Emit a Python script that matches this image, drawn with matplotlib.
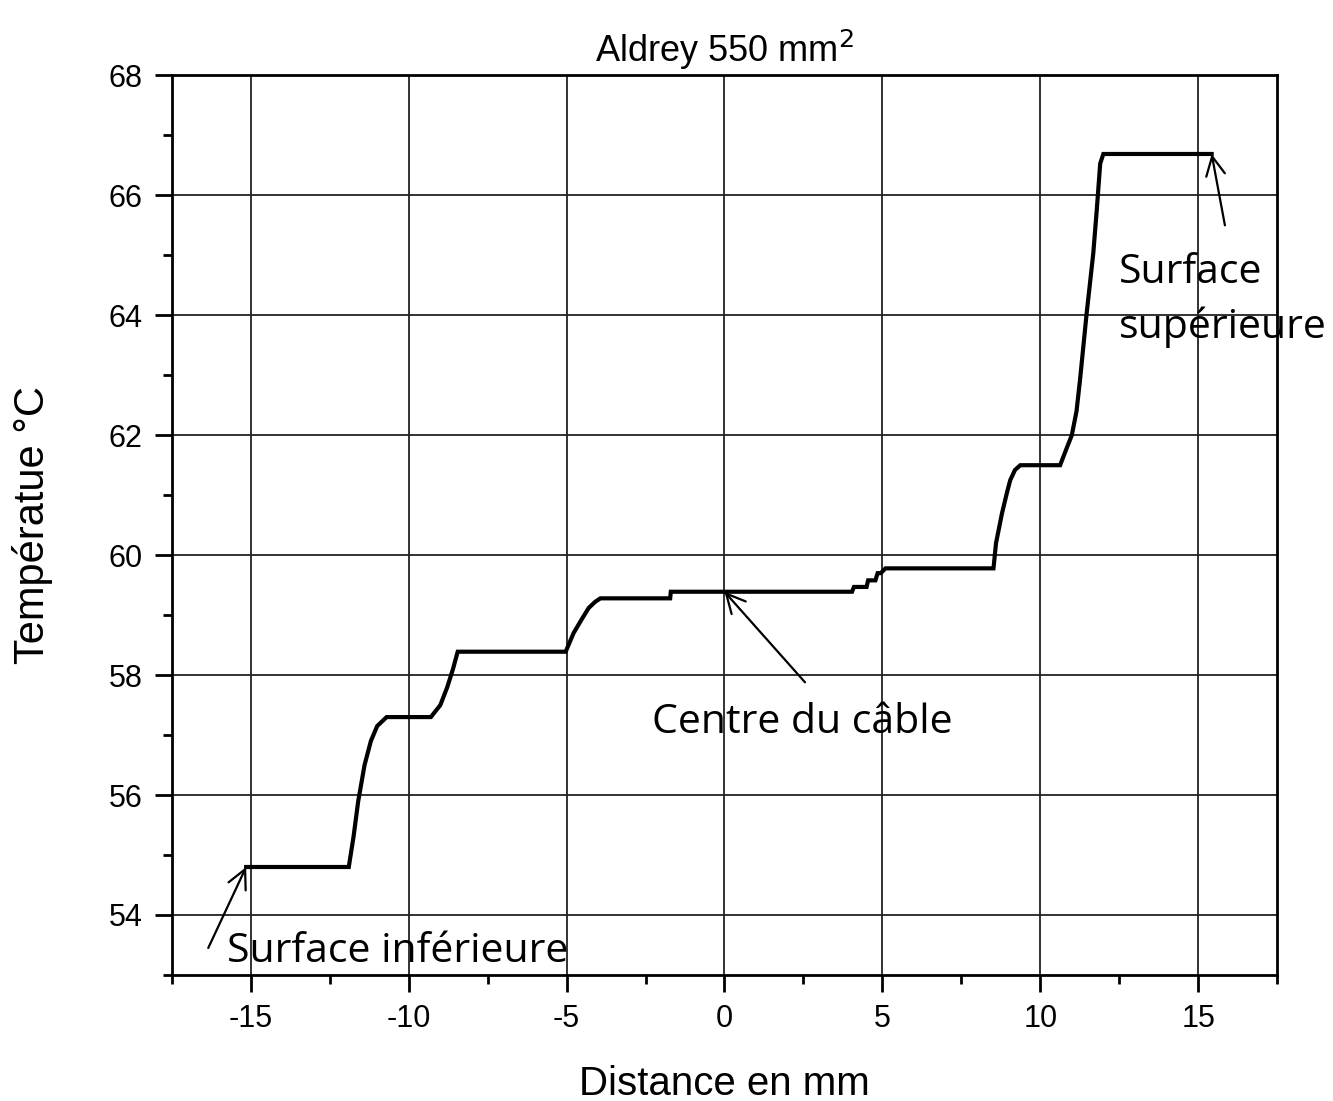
import matplotlib
matplotlib.use("Agg")
import matplotlib.pyplot as plt
from matplotlib.ticker import MultipleLocator

plt.rcParams["axes.unicode_minus"] = False

# temperature profile across the cable
distance_mm = [-15.15, -11.9, -11.75, -11.6, -11.5, -11.4, -11.2, -11.0, -10.7,
               -9.3, -9.0, -8.78, -8.6, -8.45, -5.03, -4.78, -4.5, -4.3, -4.1,
               -3.93, -1.72, -1.70, 4.04, 4.1, 4.5, 4.55, 4.78, 4.85, 4.95, 5.1,
               8.52, 8.6, 8.79, 8.95, 9.05, 9.2, 9.37, 10.63, 10.85, 11.0, 11.15,
               11.26, 11.47, 11.68, 11.79, 11.9, 12.0, 15.43]
temperature_c = [54.8, 54.8, 55.3, 55.9, 56.2, 56.5, 56.9, 57.15, 57.3,
                 57.3, 57.5, 57.8, 58.1, 58.39, 58.39, 58.7, 58.95, 59.12, 59.22,
                 59.28, 59.28, 59.39, 59.39, 59.47, 59.47, 59.58, 59.58, 59.7, 59.7, 59.78,
                 59.78, 60.2, 60.7, 61.05, 61.25, 61.42, 61.5, 61.5, 61.8, 62.0, 62.4,
                 62.92, 64.03, 65.03, 65.75, 66.53, 66.69, 66.69]

fig = plt.figure(figsize=(13.33, 11.01), dpi=100)
ax = fig.add_axes([0.129, 0.1145, 0.829, 0.817])

ax.plot(distance_mm, temperature_c, color="black", lw=3.0, solid_joinstyle="miter")

ax.set_xlim(-17.5, 17.5)
ax.set_ylim(53, 68)
ax.xaxis.set_major_locator(MultipleLocator(5))
ax.xaxis.set_minor_locator(MultipleLocator(2.5))
ax.yaxis.set_major_locator(MultipleLocator(2))
ax.yaxis.set_minor_locator(MultipleLocator(1))
ax.grid(True, which="major", color="#222222", lw=1.3)
ax.tick_params(which="major", direction="out", length=12, width=2, labelsize=22,
               pad=9)
ax.tick_params(which="minor", direction="out", length=6.5, width=2)
for s in ax.spines.values():
    s.set_linewidth(2)

font = "Liberation Sans"
for lab in ax.get_xticklabels() + ax.get_yticklabels():
    lab.set_family(font)
ax.set_xlabel("Distance en mm", family=font, fontsize=29, labelpad=22)
ax.set_ylabel("Températue °C", family=font, fontsize=30, labelpad=40)
ax.set_title("Aldrey 550 mm$^2$", family=font, fontsize=26, pad=10)

ann = dict(family="Open Sans", fontsize=29.5, color="black")
arrow = dict(arrowstyle="->", color="black", lw=1.6, mutation_scale=34,
             shrinkA=0, shrinkB=0)
ax.annotate("", xy=(-15.15, 54.8), xytext=(-16.35, 53.45), arrowprops=arrow)
ax.text(-15.75, 53.38, "Surface inférieure", ha="left", va="center", **ann)
ax.annotate("", xy=(0.0, 59.39), xytext=(2.55, 57.88), arrowprops=arrow)
ax.text(-2.3, 57.2, "Centre du câble", ha="left", va="center", **ann)
ax.annotate("", xy=(15.43, 66.69), xytext=(15.85, 65.5), arrowprops=arrow)
ax.text(12.5, 64.25, "Surface\nsupérieure", ha="left", va="center",
        linespacing=1.45, clip_on=False, **ann)

fig.savefig("out.png", dpi=100)
